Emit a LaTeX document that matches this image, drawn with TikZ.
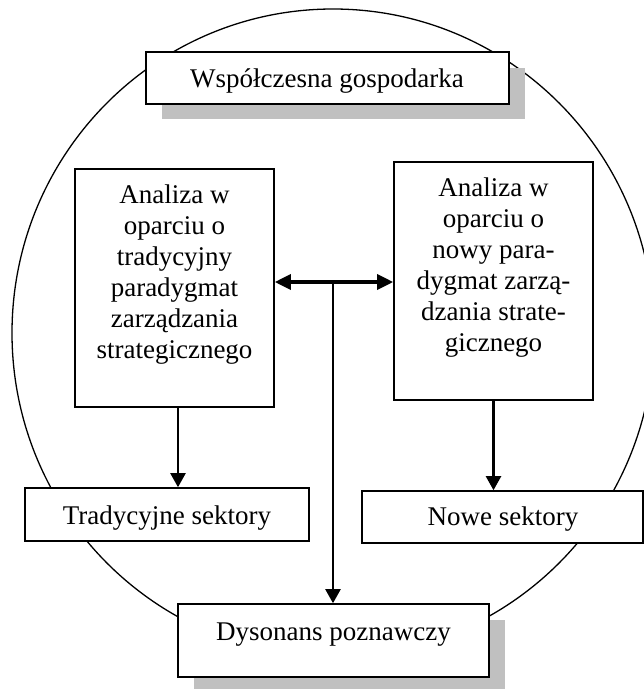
\documentclass[tikz,border=0pt]{standalone}
\usepackage{fontspec}
\setmainfont{Liberation Serif}
\usetikzlibrary{arrows.meta}
\definecolor{shadowgray}{RGB}{192,192,192}
\begin{document}
\begin{tikzpicture}[x=1pt,y=-1pt,
  box/.style={draw, line width=1.6pt, fill=white, rectangle, inner sep=0pt},
  txt/.style={font=\fontsize{27}{31}\selectfont, align=center, inner sep=0pt},
  arr/.style={-{Triangle[length=14pt,width=15pt]}, line width=2.2pt},
  darr/.style={{Triangle[length=16pt,width=15pt]}-{Triangle[length=16pt,width=15pt]}, line width=3.4pt}]
\useasboundingbox (0,0) rectangle (644,689);
\clip (0,0) rectangle (644,689);
% outer ellipse
\draw[line width=1.3pt] (333,333) ellipse [x radius=321pt, y radius=324pt];
% shadows
\fill[shadowgray] (162,68) rectangle (525,119);
\fill[shadowgray] (194,620) rectangle (505,693);
% boxes
\node[box, minimum width=363pt, minimum height=52pt] (W) at (327.5,78) {};
\node[box, minimum width=199pt, minimum height=238pt] (L) at (174.5,288) {};
\node[box, minimum width=199pt, minimum height=238pt] (R) at (493.5,281) {};
\node[box, minimum width=284pt, minimum height=53pt] (T) at (167,514.5) {};
\node[box, minimum width=281pt, minimum height=52pt] (N) at (502.5,517) {};
\node[box, minimum width=311pt, minimum height=73pt] (D) at (333.5,640.5) {};
% texts
\node[txt, anchor=base] (Wt) at (327,87) {Współczesna gospodarka};
\node[txt, anchor=base] (Lt) at (174.5,358) {Analiza w\\oparciu o\\tradycyjny\\paradygmat\\zarządzania\\strategicznego};
\node[txt, anchor=base] (Rt) at (493.5,351) {Analiza w\\oparciu o\\nowy para-\\dygmat zarzą-\\dzania strate-\\gicznego};
\node[txt, anchor=base] (Tt) at (167,524) {Tradycyjne sektory};
\node[txt, anchor=base] (Nt) at (503,525) {Nowe sektory};
\node[txt, anchor=base] (Dt) at (333.5,640) {Dysonans poznawczy};
% connectors
\coordinate (m) at (333,282);
\draw[darr] (L.east |- m) -- (R.west |- m);
\draw[arr] (m) -- (m |- D.north);
\draw[arr] ([xshift=3.5pt]L.south) -- ([xshift=3.5pt]L.south |- T.north);
\draw[arr] (R.south) -- (R.south |- N.north);
\end{tikzpicture}
\end{document}
